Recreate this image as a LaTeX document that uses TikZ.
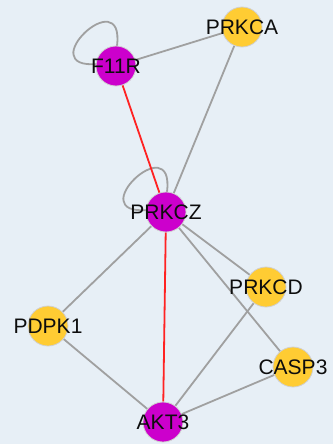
\documentclass[tikz,border=0pt]{standalone}
\usepackage{fontspec}
\setmainfont{Liberation Sans}
\usetikzlibrary{backgrounds}
\definecolor{bg}{HTML}{E7EFF6}
\definecolor{mag}{HTML}{CC00CC}
\definecolor{yel}{HTML}{FFCC33}
\definecolor{edgegray}{HTML}{A0A0A0}
\definecolor{edgered}{HTML}{FF2222}
\definecolor{ringgray}{HTML}{D0D0D0}
\tikzset{
  gene/.style={circle, minimum size=40pt, inner sep=0pt, draw=ringgray, line width=0.8pt,
    label={[font=\fontsize{21}{21}\selectfont, text=black!95]center:#1}},
  hub/.style={gene=#1, fill=mag},
  leaf/.style={gene=#1, fill=yel},
  plain/.style={draw=edgegray, line width=1.8pt},
  hot/.style={draw=edgered, line width=1.8pt},
}
\begin{document}
\begin{tikzpicture}[x=1pt,y=-1pt]
\useasboundingbox (0,0) rectangle (333,444);
\node[hub=F11R] (F11R) at (116,66) {};
\node[leaf=PRKCA] (PRKCA) at (242,27) {};
\node[hub=PRKCZ] (PRKCZ) at (166,212) {};
\node[leaf=PDPK1] (PDPK1) at (48,326) {};
\node[leaf=PRKCD] (PRKCD) at (266,287) {};
\node[leaf=CASP3] (CASP3) at (293,367) {};
\node[hub=AKT3] (AKT3) at (163,422) {};
\begin{pgfonlayer}{background}
\fill[bg] (0,0) rectangle (333,444);
\draw[plain] (F11R.center) ++(-18,-2) .. controls +(-68,6) and +(8,-66) .. ++(19,-18);
\draw[plain] (PRKCZ.center) ++(-18,-2) .. controls +(-68,6) and +(8,-66) .. ++(19,-18);
\draw[plain] (F11R) -- (PRKCA);
\draw[hot] (F11R) -- (PRKCZ);
\draw[plain] (PRKCA) -- (PRKCZ);
\draw[plain] (PRKCZ) -- (PDPK1);
\draw[hot] (PRKCZ) -- (AKT3);
\draw[plain] (PRKCZ) -- (PRKCD);
\draw[plain] (PRKCZ) -- (CASP3);
\draw[plain] (PDPK1) -- (AKT3);
\draw[plain] (PRKCD) -- (AKT3);
\draw[plain] (CASP3) -- (AKT3);
\end{pgfonlayer}
\end{tikzpicture}
\end{document}
